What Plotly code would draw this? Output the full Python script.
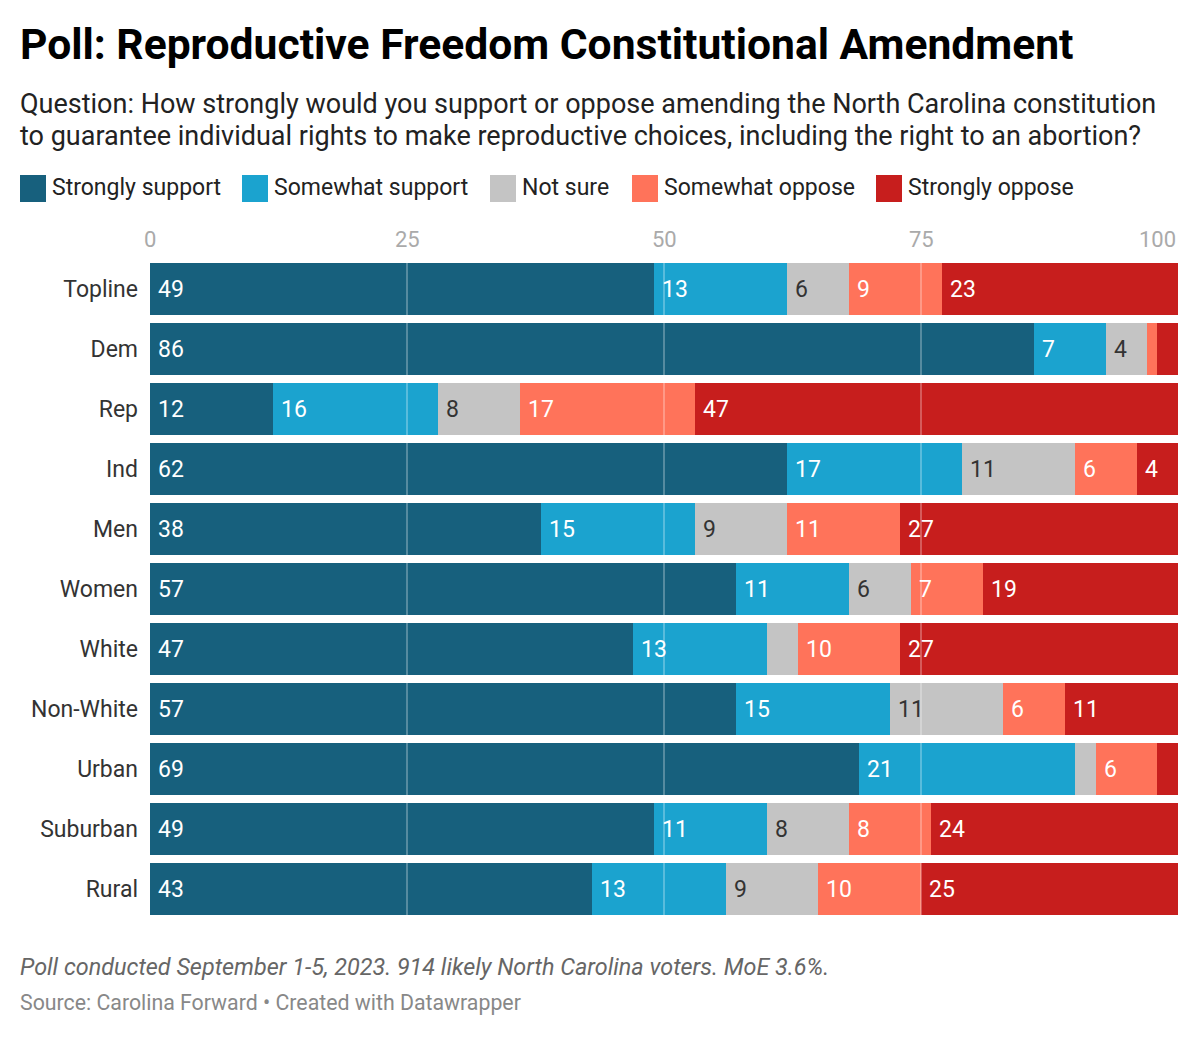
import plotly.graph_objects as go

categories = ["Topline", "Dem", "Rep", "Ind", "Men", "Women", "White",
              "Non-White", "Urban", "Suburban", "Rural"]
series_names = ["Strongly support", "Somewhat support", "Not sure",
                "Somewhat oppose", "Strongly oppose"]
strongly_support = [49, 86, 12, 62, 38, 57, 47, 57, 69, 49, 43]
somewhat_support = [13, 7, 16, 17, 15, 11, 13, 15, 21, 11, 13]
not_sure = [6, 4, 8, 11, 9, 6, 3, 11, 2, 8, 9]
somewhat_oppose = [9, 1, 17, 6, 11, 7, 10, 6, 6, 8, 10]
strongly_oppose = [23, 2, 47, 4, 27, 19, 27, 11, 2, 24, 25]
x_ticks = [0, 25, 50, 75, 100]

series_values = [strongly_support, somewhat_support, not_sure,
                 somewhat_oppose, strongly_oppose]
colors = ["#17607d", "#1ba3cf", "#c4c4c4", "#ff735a", "#c71e1d"]
label_colors = ["#ffffff", "#ffffff", "#333333", "#ffffff", "#ffffff"]

FONT = "Roboto"
OFF = 8  # page body margin
W, H = 1200 - OFF, 1037 - OFF
L, R, T, B = 150 - OFF, 22, 259 - OFF, 118
PW, PH = W - L - R, H - T - B


def px2x(px):
    return (px - OFF - L) / PW


def px2y(py):
    return (H - B - (py - OFF)) / PH


fig = go.Figure()
for name, vals, col in zip(series_names, series_values, colors):
    fig.add_trace(go.Bar(
        y=categories, x=vals, name=name, orientation="h",
        marker=dict(color=col, line=dict(width=0)),
        hoverinfo="x+name", showlegend=False,
    ))

annotations = []
# value labels inside bars
for i, cat in enumerate(categories):
    start = 0
    for s, vals in enumerate(series_values):
        v = vals[i]
        if v >= 4:
            annotations.append(dict(
                x=start, y=cat, xref="x", yref="y", text=str(v),
                showarrow=False, xanchor="left", xshift=6,
                font=dict(family=FONT, size=23, color=label_colors[s]),
            ))
        start += v

# top axis tick labels
for t in x_ticks:
    annotations.append(dict(
        x=t, y=px2y(239), xref="x", yref="paper", text=str(t),
        showarrow=False, xanchor="right" if t == 100 else "center",
        yanchor="middle",
        font=dict(family=FONT, size=22, color="#aaaaaa"),
    ))

# title, subtitle, footer
annotations.append(dict(
    x=px2x(18), y=px2y(44), xref="paper", yref="paper",
    text="<b>Poll: Reproductive Freedom Constitutional Amendment</b>",
    showarrow=False, xanchor="left", yanchor="middle",
    font=dict(family=FONT, size=42.6, color="#000000"),
))
subtitle_lines = [
    "Question: How strongly would you support or oppose amending the North Carolina constitution",
    "to guarantee individual rights to make reproductive choices, including the right to an abortion?",
]
for line, py in zip(subtitle_lines, [104, 136]):
    annotations.append(dict(
        x=px2x(18), y=px2y(py), xref="paper", yref="paper",
        text=line, showarrow=False, xanchor="left", yanchor="middle",
        font=dict(family=FONT, size=27, color="#222222"),
    ))
annotations.append(dict(
    x=px2x(18), y=px2y(967), xref="paper", yref="paper",
    text="<i>Poll conducted September 1-5, 2023. 914 likely North Carolina voters. MoE 3.6%.</i>",
    showarrow=False, xanchor="left", yanchor="middle",
    font=dict(family=FONT, size=23.4, color="#666666"),
))
annotations.append(dict(
    x=px2x(18), y=px2y(1002), xref="paper", yref="paper",
    text="Source: Carolina Forward • Created with Datawrapper",
    showarrow=False, xanchor="left", yanchor="middle",
    font=dict(family=FONT, size=21.3, color="#888888"),
))

shapes = []
# custom legend
legend_x = [20, 242, 490, 632, 876]
for name, col, lx in zip(series_names, colors, legend_x):
    shapes.append(dict(
        type="rect", xref="paper", yref="paper",
        x0=px2x(lx), x1=px2x(lx + 26), y0=px2y(202), y1=px2y(175),
        fillcolor=col, line=dict(width=0),
    ))
    annotations.append(dict(
        x=px2x(lx + 30), y=px2y(188), xref="paper", yref="paper",
        text=name, showarrow=False, xanchor="left", yanchor="middle",
        font=dict(family=FONT, size=23, color="#222222"),
    ))

# gridlines drawn above bars
for t in x_ticks[1:-1]:
    shapes.append(dict(
        type="line", xref="x", yref="paper", x0=t, x1=t, y0=0, y1=px2y(263),
        line=dict(color="rgba(255,255,255,0.55)", width=1), layer="above",
    ))

fig.update_layout(
    width=W, height=H,
    margin=dict(l=L, r=R, t=T, b=B, autoexpand=False),
    barmode="stack", bargap=8 / 60,
    plot_bgcolor="white", paper_bgcolor="white",
    font=dict(family=FONT),
    xaxis=dict(range=[0, 100], showgrid=False, zeroline=False,
               showticklabels=False, fixedrange=True),
    yaxis=dict(autorange=False, range=[len(categories) - 0.5, -0.5],
               showgrid=False, zeroline=False, ticks="",
               ticklabelstandoff=11,
               tickfont=dict(family=FONT, size=23, color="#333333")),
    annotations=annotations, shapes=shapes,
    showlegend=False,
)

fig.write_html("out.html")
